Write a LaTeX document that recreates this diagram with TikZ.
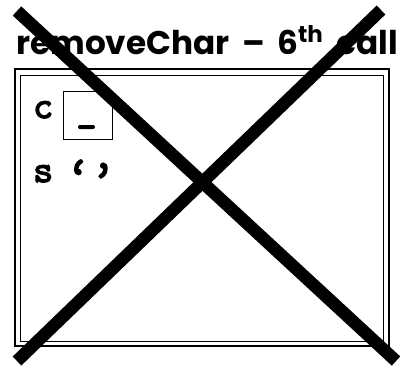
\documentclass[tikz,border=0pt]{standalone}
\usepackage{fontspec}
\newfontfamily\titlefont{Poppins}
\newfontfamily\codefont{lmmono10-regular.otf}[AutoFakeBold=3.5]
\begin{document}
\begin{tikzpicture}[x=1pt,y=-1pt,
  titlestyle/.style={inner sep=0pt, anchor=base west, font=\titlefont\bfseries},
  code/.style={inner sep=0pt, anchor=base west, font=\codefont\bfseries\fontsize{38}{38}\selectfont},
  quotes/.style={inner sep=0pt, anchor=base west, font=\codefont\bfseries\fontsize{47}{47}\selectfont},
  valbox/.style={draw, line width=1pt, minimum width=49pt, minimum height=48pt, inner sep=0pt},
  cross/.style={line width=12.5pt, line cap=butt}]
\useasboundingbox (0,0) rectangle (403,368);
\node[titlestyle] (title) at (16,54) {\resizebox{382pt}{!}{removeChar \,–\, 6\textsuperscript{th} \,call}};
\draw[line width=2pt] (15,69) rectangle (389,346);
\draw[line width=1pt] (20.5,75) rectangle (383.5,341);
\node[code] (c) at (33,118) {c};
\node[valbox] (cbox) at (87.5,115) {};
\node[code, anchor=base] (cval) at (86.5,122) {\_};
\node[code] (s) at (33,182) {s};
\node[quotes] (sval) at (66,192) {‘’};
\coordinate (a1) at (17,11);
\coordinate (a2) at (396,361);
\coordinate (b1) at (381,10);
\coordinate (b2) at (17,361);
\draw[cross] (a1) -- (a2);
\draw[cross] (b1) -- (b2);
\end{tikzpicture}
\end{document}
